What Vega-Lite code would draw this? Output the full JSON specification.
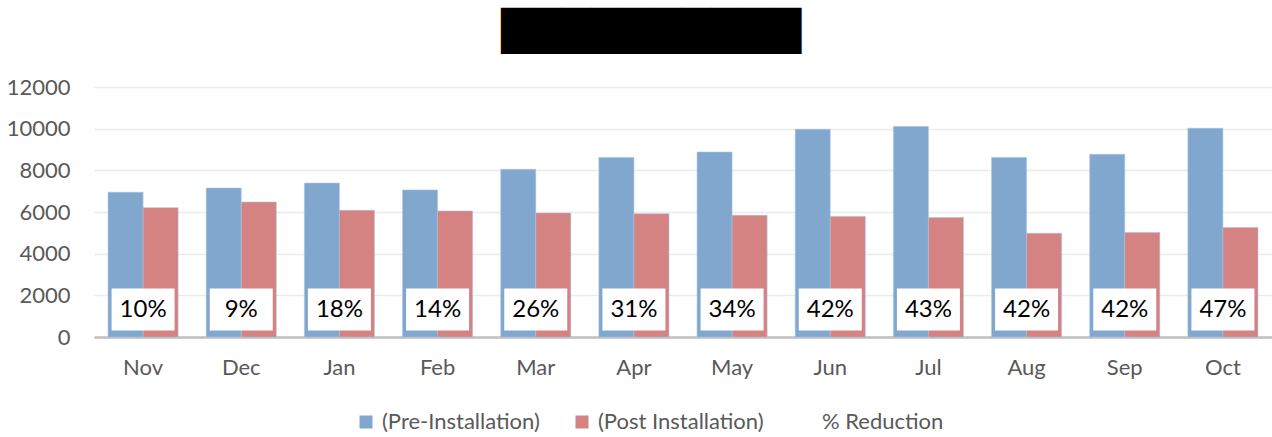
{
  "$schema": "https://vega.github.io/schema/vega-lite/v6.json",
  "autosize": {"type": "none"},
  "padding": {"left": 94, "top": 87, "right": 0, "bottom": 100},
  "width": 1178,
  "height": 250,
  "background": "white",
  "title": {
    "text": "██████████",
    "font": "DejaVu Sans",
    "fontSize": 39,
    "color": "black",
    "anchor": "middle",
    "frame": "group",
    "dx": -32,
    "offset": 24
  },
  "config": {
    "view": {"stroke": null},
    "font": "Lato"
  },
  "datasets": {
    "bars": [
      {"month": "Nov", "series": "(Pre-Installation)", "value": 6950},
      {"month": "Nov", "series": "(Post Installation)", "value": 6210},
      {"month": "Dec", "series": "(Pre-Installation)", "value": 7150},
      {"month": "Dec", "series": "(Post Installation)", "value": 6480},
      {"month": "Jan", "series": "(Pre-Installation)", "value": 7390},
      {"month": "Jan", "series": "(Post Installation)", "value": 6080},
      {"month": "Feb", "series": "(Pre-Installation)", "value": 7060},
      {"month": "Feb", "series": "(Post Installation)", "value": 6050},
      {"month": "Mar", "series": "(Pre-Installation)", "value": 8050},
      {"month": "Mar", "series": "(Post Installation)", "value": 5950},
      {"month": "Apr", "series": "(Pre-Installation)", "value": 8620},
      {"month": "Apr", "series": "(Post Installation)", "value": 5920},
      {"month": "May", "series": "(Pre-Installation)", "value": 8880},
      {"month": "May", "series": "(Post Installation)", "value": 5840},
      {"month": "Jun", "series": "(Pre-Installation)", "value": 9970},
      {"month": "Jun", "series": "(Post Installation)", "value": 5790},
      {"month": "Jul", "series": "(Pre-Installation)", "value": 10100},
      {"month": "Jul", "series": "(Post Installation)", "value": 5740},
      {"month": "Aug", "series": "(Pre-Installation)", "value": 8620},
      {"month": "Aug", "series": "(Post Installation)", "value": 4980},
      {"month": "Sep", "series": "(Pre-Installation)", "value": 8770},
      {"month": "Sep", "series": "(Post Installation)", "value": 5020},
      {"month": "Oct", "series": "(Pre-Installation)", "value": 10020},
      {"month": "Oct", "series": "(Post Installation)", "value": 5260}
    ],
    "labels": [
      {"month": "Nov", "reduction": "10%"},
      {"month": "Dec", "reduction": "9%"},
      {"month": "Jan", "reduction": "18%"},
      {"month": "Feb", "reduction": "14%"},
      {"month": "Mar", "reduction": "26%"},
      {"month": "Apr", "reduction": "31%"},
      {"month": "May", "reduction": "34%"},
      {"month": "Jun", "reduction": "42%"},
      {"month": "Jul", "reduction": "43%"},
      {"month": "Aug", "reduction": "42%"},
      {"month": "Sep", "reduction": "42%"},
      {"month": "Oct", "reduction": "47%"}
    ]
  },
  "encoding": {
    "x": {
      "field": "month",
      "type": "nominal",
      "sort": ["Nov", "Dec", "Jan", "Feb", "Mar", "Apr", "May", "Jun", "Jul", "Aug", "Sep", "Oct"],
      "scale": {"paddingInner": 0.286, "paddingOuter": 0.143},
      "axis": {
        "title": null,
        "labelAngle": 0,
        "labelFont": "Lato",
        "labelFontSize": 22,
        "labelColor": "#595959",
        "labelPadding": 20,
        "ticks": false,
        "domainColor": "#bfbfbf",
        "domainWidth": 2.5,
        "grid": false
      }
    }
  },
  "layer": [
    {
      "data": {"name": "bars"},
      "mark": {"type": "bar", "stroke": "#a9c3e0", "strokeWidth": 0.8, "strokeOpacity": 0.7},
      "encoding": {
        "xOffset": {
          "field": "series",
          "type": "nominal",
          "sort": ["(Pre-Installation)", "(Post Installation)"],
          "scale": {"paddingInner": 0, "paddingOuter": 0}
        },
        "y": {
          "field": "value",
          "type": "quantitative",
          "scale": {"domain": [0, 12000]},
          "axis": {
            "title": null,
            "values": [0, 2000, 4000, 6000, 8000, 10000, 12000],
            "format": "d",
            "labelFont": "Lato",
            "labelFontSize": 22,
            "labelColor": "#595959",
            "labelPadding": 24,
            "ticks": false,
            "domain": false,
            "gridColor": "#ebebeb",
            "gridWidth": 1.5
          }
        },
        "color": {
          "field": "series",
          "type": "nominal",
          "scale": {
            "domain": ["(Pre-Installation)", "(Post Installation)", "% Reduction"],
            "range": ["#82a7cf", "#d48282", "rgba(0,0,0,0)"]
          },
          "legend": {
            "title": null,
            "orient": "none",
            "direction": "horizontal",
            "legendX": 261,
            "legendY": 324,
            "symbolType": "square",
            "symbolSize": 169,
            "symbolStrokeWidth": 0,
            "labelFont": "Lato",
            "labelFontSize": 22,
            "labelColor": "#595959",
            "labelOffset": 5,
            "labelLimit": 400,
            "columnPadding": 31
          }
        }
      }
    },
    {
      "data": {"name": "labels"},
      "mark": {
        "type": "point",
        "shape": "M-1.5,-1H1.5V1H-1.5Z",
        "filled": true,
        "fill": "white",
        "opacity": 1,
        "size": 1764
      },
      "encoding": {
        "y": {"datum": 1320, "type": "quantitative"}
      }
    },
    {
      "data": {"name": "labels"},
      "mark": {"type": "text", "font": "Lato", "fontSize": 24, "color": "black", "baseline": "middle", "align": "center"},
      "encoding": {
        "y": {"datum": 1320, "type": "quantitative"},
        "text": {"field": "reduction"}
      }
    }
  ]
}
